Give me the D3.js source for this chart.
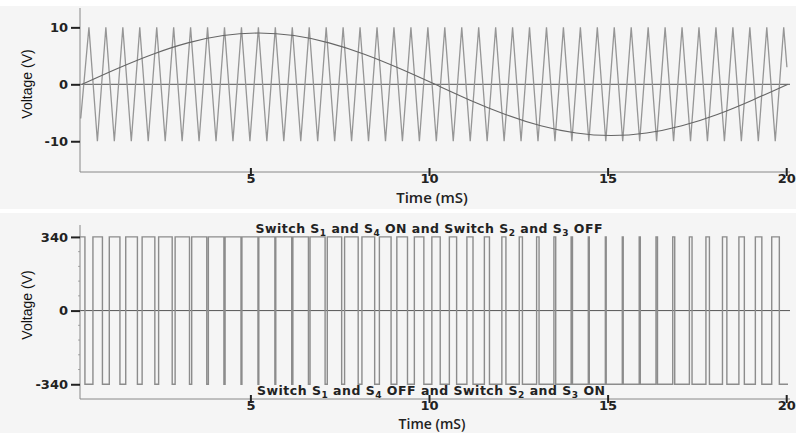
<!DOCTYPE html>
<html>
<head>
<meta charset="utf-8">
<script src="https://cdn.jsdelivr.net/npm/d3@7"></script>
<style>
  html, body { margin: 0; padding: 0; background: #ffffff; }
  svg { display: block; }
  .tick text { font-family: "DejaVu Sans", sans-serif; font-weight: bold; font-size: 13px; fill: #222; }
  .axis-title { font-family: "Open Sans", sans-serif; font-weight: 600; font-size: 15px; fill: #222; }
  .axis-title.low { font-size: 14px; }
  .y-title { font-family: "Liberation Sans Narrow", "Liberation Sans", sans-serif; font-size: 14px; fill: #111; }
  .note { font-family: "DejaVu Sans", sans-serif; font-weight: 600; font-size: 12.5px; fill: #222; }
</style>
</head>
<body>
<div class="container-svg"><svg width="796" height="433"></svg></div>
<script>

// modulating sine (V) sampled along time (ms)
const sineT = [0.29, 1.28, 2.27, 3.25, 4.24, 5.23, 6.22, 7.20, 8.19, 9.18, 10.17,
               11.15, 12.14, 13.13, 14.12, 15.10, 16.09, 17.08, 18.07, 19.05, 20.04];
const sineV = [0, 2.78, 5.29, 7.28, 8.56, 9.00, 8.56, 7.28, 5.29, 2.78, 0,
               -2.78, -5.29, -7.28, -8.56, -9.00, -8.56, -7.28, -5.29, -2.78, 0];

// triangular carrier, times of the peaks (+10 V) and valleys (-10 V)
const carrierPeaks = [0.480, 0.954, 1.429, 1.903, 2.378, 2.852, 3.326, 3.801, 4.275, 4.750,
                      5.224, 5.698, 6.173, 6.647, 7.122, 7.596, 8.070, 8.545, 9.019, 9.494,
                      9.968, 10.442, 10.917, 11.391, 11.866, 12.340, 12.814, 13.289, 13.763, 14.238,
                      14.712, 15.186, 15.661, 16.135, 16.610, 17.084, 17.558, 18.033, 18.507, 18.982,
                      19.456, 19.930];
const carrierValleys = [0.717, 1.191, 1.666, 2.140, 2.615, 3.089, 3.563, 4.038, 4.512, 4.987,
                        5.461, 5.935, 6.410, 6.884, 7.359, 7.833, 8.307, 8.782, 9.256, 9.731,
                        10.205, 10.679, 11.154, 11.628, 12.103, 12.577, 13.051, 13.526, 14.000, 14.475,
                        14.949, 15.423, 15.898, 16.372, 16.847, 17.321, 17.795, 18.270, 18.744, 19.219,
                        19.693];
const carrierLevels = [10, -10];
const carrierStart = [0.25, -6];
const carrierEnd = [20.02, 3];

// output voltage: width (ms) of each -340 V pulse, centred on the carrier peaks
const pwmLowWidth = [0.224, 0.192, 0.162, 0.132, 0.106, 0.082, 0.062, 0.045, 0.033, 0.026,
                     0.024, 0.026, 0.033, 0.045, 0.061, 0.082, 0.105, 0.132, 0.161, 0.192,
                     0.224, 0.256, 0.288, 0.318, 0.347, 0.373, 0.397, 0.416, 0.431, 0.443,
                     0.449, 0.450, 0.447, 0.439, 0.427, 0.410, 0.389, 0.365, 0.337, 0.308,
                     0.277, 0.245];
const pwmLevels = [340, -340];

const timeDomain = [0.23, 20.05];
const timeTicks = [5, 10, 15, 20];
const topTicks = [10, 0, -10];
const bottomTicks = [340, 0, -340];
const bottomMinor = [272, 204, 136, 68, -68, -136, -204, -272];

const vis = {

    sels : { svg : null },

    params : {
        left : 80,
        right : 788,
        top : { y0 : 8, y1 : 172, domain : [-15.4, 13.4] },
        bottom : { y0 : 225, y1 : 399, domain : [-408, 395] }
    },

    scales : { x : null, yTop : null, yBottom : null },

    render : {

        panels : function() {
            const svg = vis.sels.svg;
            svg.append("rect").attr("x", 0).attr("y", 6).attr("width", 796).attr("height", 203).attr("fill", "#f5f5f5");
            svg.append("rect").attr("x", 0).attr("y", 213).attr("width", 796).attr("height", 220).attr("fill", "#f5f5f5");
        },

        xAxis : function(yPos, labelY, titleY, titleClass) {
            const svg = vis.sels.svg;
            const g = svg.append("g")
              .attr("transform", `translate(0,${yPos})`)
              .call(d3.axisBottom(vis.scales.x).tickValues(timeTicks).tickSize(4).tickPadding(6).tickFormat(d => String(d)));
            g.select(".domain").attr("stroke", "#888").attr("d", `M${vis.params.left},0H${vis.params.right + 2}`);
            g.selectAll(".tick line").attr("y1", -4).attr("y2", 4).attr("stroke", "#222").attr("stroke-width", 2);
            g.selectAll(".tick text").attr("y", labelY).attr("dy", 0);
            svg.append("text").attr("class", titleClass)
              .attr("x", 432).attr("y", titleY).attr("text-anchor", "middle").text("Time (mS)");
        },

        yAxis : function(scale, ticks, y0, y1, titleY) {
            const svg = vis.sels.svg;
            const g = svg.append("g")
              .attr("transform", `translate(${vis.params.left},0)`)
              .call(d3.axisLeft(scale).tickValues(ticks).tickSize(9).tickPadding(3).tickFormat(d => String(d)));
            g.select(".domain").attr("stroke", "#888").attr("d", `M0,${y0}V${y1}`);
            g.selectAll(".tick line").attr("stroke", "#222").attr("stroke-width", 2);
            svg.append("text").attr("class", "y-title")
              .attr("transform", `translate(32,${titleY}) rotate(-90)`)
              .attr("text-anchor", "middle").text("Voltage (V)");
        },

        zeroLine : function(scale) {
            vis.sels.svg.append("line")
              .attr("x1", vis.params.left).attr("x2", vis.params.right + 2)
              .attr("y1", scale(0)).attr("y2", scale(0))
              .attr("stroke", "#555").attr("stroke-width", 1);
        },

        topChart : function() {
            const x = vis.scales.x, y = vis.scales.yTop;

            vis.render.zeroLine(y);

            const pts = [carrierStart]
              .concat(carrierPeaks.map(t => [t, carrierLevels[0]]))
              .concat(carrierValleys.map(t => [t, carrierLevels[1]]))
              .concat([carrierEnd])
              .sort((a, b) => a[0] - b[0]);

            vis.sels.svg.append("path")
              .datum(pts)
              .attr("fill", "none")
              .attr("stroke", "#969696")
              .attr("stroke-width", 1.3)
              .attr("d", d3.line().x(d => x(d[0])).y(d => y(d[1])));

            const sine = sineT.map((t, i) => [t, sineV[i]]);
            vis.sels.svg.append("path")
              .datum(sine)
              .attr("fill", "none")
              .attr("stroke", "#666")
              .attr("stroke-width", 1.1)
              .attr("d", d3.line().curve(d3.curveNatural).x(d => x(d[0])).y(d => y(d[1])));

            vis.render.yAxis(y, topTicks, vis.params.top.y0, vis.params.top.y1, 84);
            vis.render.xAxis(vis.params.top.y1, 11, 203, "axis-title");
        },

        bottomChart : function() {
            const x = vis.scales.x, y = vis.scales.yBottom;
            const hi = pwmLevels[0], lo = pwmLevels[1];
            const end = timeDomain[1];

            vis.render.zeroLine(y);

            // step trace built from the pulse list
            const pts = [[timeDomain[0], hi]];
            carrierPeaks.forEach((c, i) => {
                const a = c - pwmLowWidth[i] / 2;
                const b = Math.min(c + pwmLowWidth[i] / 2, end);
                pts.push([a, hi], [a, lo], [b, lo]);
                if (b < end) pts.push([b, hi]);
            });

            vis.sels.svg.append("path")
              .datum(pts)
              .attr("fill", "none")
              .attr("stroke", "#8c8c8c")
              .attr("stroke-width", 1.4)
              .attr("d", d3.line().x(d => x(d[0])).y(d => y(d[1])));

            // small minor marks on the voltage axis
            vis.sels.svg.selectAll("line.minor")
              .data(bottomMinor)
              .join("line")
              .classed("minor", true)
              .attr("x1", vis.params.left - 2).attr("x2", vis.params.left)
              .attr("y1", d => y(d)).attr("y2", d => y(d))
              .attr("stroke", "#aaa");

            vis.render.yAxis(y, bottomTicks, vis.params.bottom.y0, vis.params.bottom.y1, 305);
            vis.render.xAxis(vis.params.bottom.y1, 11, 429, "axis-title low");

            vis.render.note(429, 233, 347, ["Switch S", "1", " and S", "4", " ON and Switch S", "2", " and S", "3", " OFF"]);
            vis.render.note(431, 395, 348, ["Switch S", "1", " and S", "4", " OFF and Switch S", "2", " and S", "3", " ON"]);
        },

        note : function(cx, cy, len, parts) {
            const t = vis.sels.svg.append("text").attr("class", "note")
              .attr("x", cx).attr("y", cy).attr("text-anchor", "middle")
              .attr("textLength", len).attr("lengthAdjust", "spacing");
            parts.forEach((p, i) => {
                const sub = i % 2 === 1;
                t.append("tspan")
                  .attr("dy", sub ? 3 : (i === 0 ? 0 : -3))
                  .attr("font-size", sub ? "9px" : null)
                  .text(p);
            });
        }
    },

    control : {

        init : function() {
            vis.sels.svg = d3.select("svg");
            vis.scales.x = d3.scaleLinear().domain(timeDomain).range([vis.params.left, vis.params.right]);
            vis.scales.yTop = d3.scaleLinear().domain(vis.params.top.domain).range([vis.params.top.y1, vis.params.top.y0]);
            vis.scales.yBottom = d3.scaleLinear().domain(vis.params.bottom.domain).range([vis.params.bottom.y1, vis.params.bottom.y0]);

            vis.render.panels();
            vis.render.topChart();
            vis.render.bottomChart();
        }
    }
};

vis.control.init();
</script>
</body>
</html>
